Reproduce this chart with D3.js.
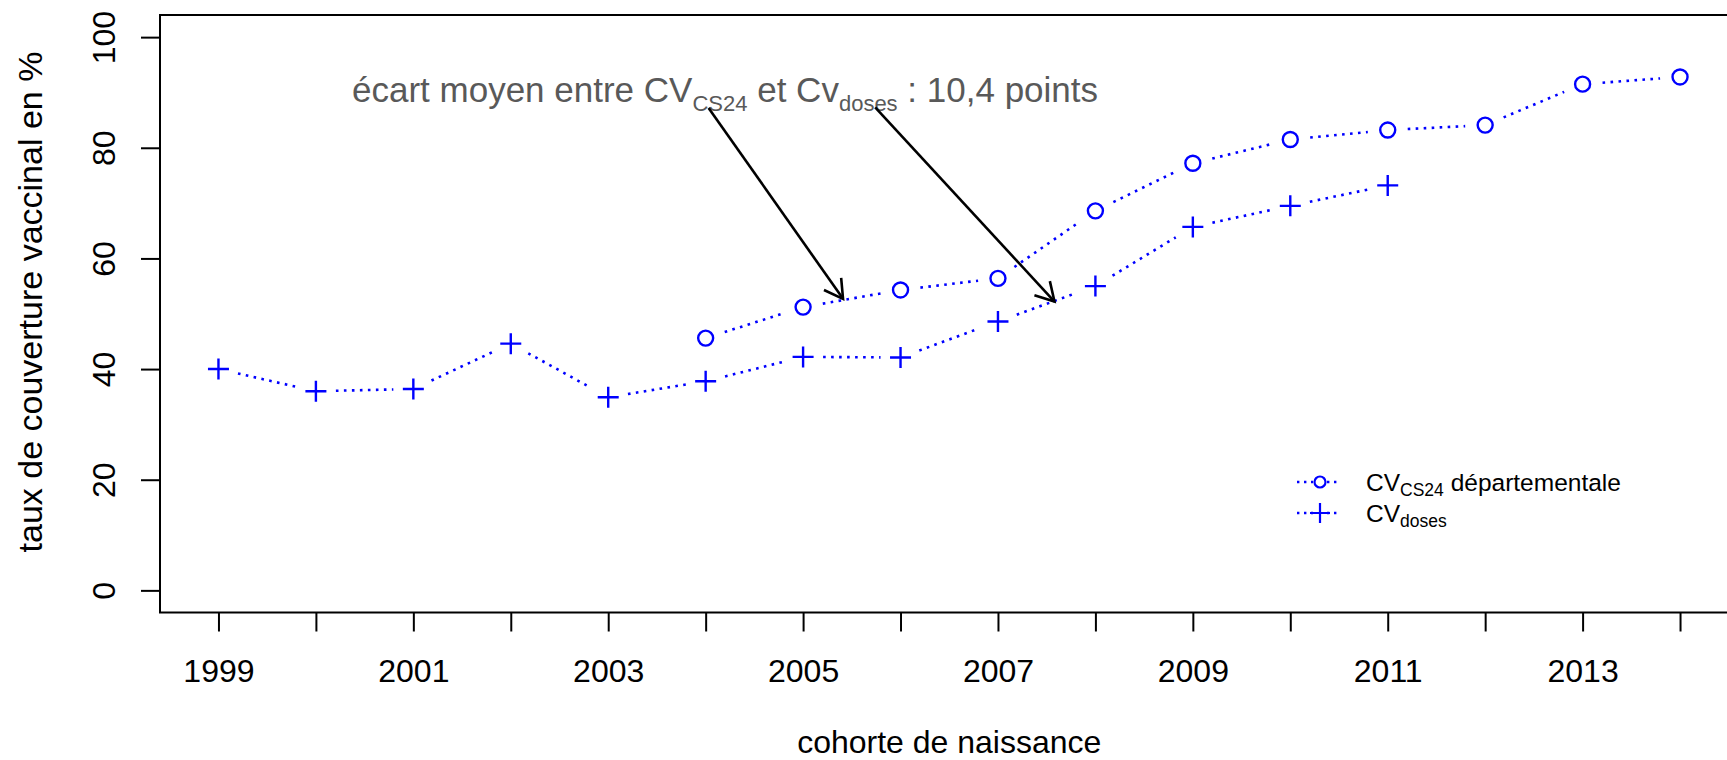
<!DOCTYPE html>
<html>
<head>
<meta charset="utf-8">
<script src="https://cdn.jsdelivr.net/npm/d3@7"></script>
<style>
  html, body { margin: 0; padding: 0; background: #fff; }
  svg { display: block; font-family: "Liberation Sans", Arial, sans-serif; }
</style>
</head>
<body>
<svg id="chart" width="1727" height="760"></svg>
<script>
// ---- data ----
const yearsCS24 = [2004, 2005, 2006, 2007, 2008, 2009, 2010, 2011, 2012, 2013, 2014];
const valuesCS24 = [45.6, 51.2, 54.3, 56.4, 68.6, 77.2, 81.5, 83.2, 84.1, 91.5, 92.8];
const yearsDoses = [1999, 2000, 2001, 2002, 2003, 2004, 2005, 2006, 2007, 2008, 2009, 2010, 2011];
const valuesDoses = [40.0, 36.0, 36.4, 44.6, 34.9, 37.8, 42.2, 42.1, 48.6, 55.0, 65.7, 69.5, 73.2];
const xTickValues = [1999, 2000, 2001, 2002, 2003, 2004, 2005, 2006, 2007, 2008, 2009, 2010, 2011, 2012, 2013, 2014];
const xTickLabels = ["1999", "", "2001", "", "2003", "", "2005", "", "2007", "", "2009", "", "2011", "", "2013", ""];
const yTickValues = [0, 20, 40, 60, 80, 100];
const yTickLabels = ["0", "20", "40", "60", "80", "100"];
const xTitle = "cohorte de naissance";
const yTitle = "taux de couverture vaccinal en %";
// arrows of the annotation, in data units [year, value]
const arrowFrom = [[2004.03, 87.2], [2005.74, 87.3]];
const arrowTo = [[2005.41, 52.7], [2007.58, 52.2]];

// ---- layout ----
const svg = d3.select("#chart");
const blue = "#0000ff";
const plot = { left: 160, right: 1738.5, top: 15, bottom: 612.5 };

const x = d3.scaleLinear().domain([1998.4, 2014.6]).range([plot.left, plot.right]);
const y = d3.scaleLinear().domain([-4, 104]).range([plot.bottom, plot.top]);

// box
svg.append("rect")
  .attr("x", plot.left).attr("y", plot.top)
  .attr("width", plot.right - plot.left).attr("height", plot.bottom - plot.top)
  .attr("fill", "none").attr("stroke", "#000").attr("stroke-width", 2);

// x axis
const xAxis = d3.axisBottom(x).tickValues(xTickValues).tickSize(19).tickPadding(0)
  .tickFormat((d, i) => xTickLabels[i]);
const gx = svg.append("g").attr("transform", `translate(0,${plot.bottom})`).call(xAxis);
gx.select(".domain").remove();
gx.selectAll(".tick line").attr("stroke", "#000").attr("stroke-width", 2);
gx.selectAll(".tick text").attr("y", 69).attr("dy", 0)
  .attr("font-size", 32).attr("fill", "#000").attr("font-family", "Liberation Sans, Arial, sans-serif");

// y axis
const yAxis = d3.axisLeft(y).tickValues(yTickValues).tickSize(19)
  .tickFormat((d, i) => yTickLabels[i]);
const gy = svg.append("g").attr("transform", `translate(${plot.left},0)`).call(yAxis);
gy.select(".domain").remove();
gy.selectAll(".tick line").attr("stroke", "#000").attr("stroke-width", 2);
gy.selectAll(".tick text")
  .attr("x", null).attr("dy", null)
  .attr("text-anchor", "middle")
  .attr("transform", "translate(-45,0) rotate(-90)")
  .attr("font-size", 32).attr("fill", "#000").attr("font-family", "Liberation Sans, Arial, sans-serif");

// axis titles
svg.append("text")
  .attr("x", (plot.left + plot.right) / 2).attr("y", 753)
  .attr("text-anchor", "middle").attr("font-size", 32).attr("fill", "#000")
  .text(xTitle);
svg.append("text")
  .attr("transform", `translate(42,302) rotate(-90)`)
  .attr("text-anchor", "middle").attr("font-size", 34).attr("fill", "#000")
  .text(yTitle);

// dotted "type b" lines
function drawSeries(years, values, marker) {
  const pts = years.map((yr, i) => [x(yr), y(values[i])]);
  const gap = 20;
  const g = svg.append("g");
  for (let i = 0; i < pts.length - 1; i++) {
    const [x1, y1] = pts[i], [x2, y2] = pts[i + 1];
    const len = Math.hypot(x2 - x1, y2 - y1);
    if (len <= 2 * gap) continue;
    const ux = (x2 - x1) / len, uy = (y2 - y1) / len;
    g.append("line")
      .attr("x1", x1 + ux * gap).attr("y1", y1 + uy * gap)
      .attr("x2", x2 - ux * gap).attr("y2", y2 - uy * gap)
      .attr("stroke", blue).attr("stroke-width", 2.6)
      .attr("stroke-dasharray", "2.6,5.4");
  }
  if (marker === "circle") {
    g.selectAll("circle").data(pts).join("circle")
      .attr("cx", d => d[0]).attr("cy", d => d[1]).attr("r", 7.5)
      .attr("fill", "none").attr("stroke", blue).attr("stroke-width", 2.4);
  } else {
    g.selectAll("path.plus").data(pts).join("path").attr("class", "plus")
      .attr("d", d => `M${d[0] - 10.5},${d[1]}H${d[0] + 10.5}M${d[0]},${d[1] - 10.5}V${d[1] + 10.5}`)
      .attr("stroke", blue).attr("stroke-width", 2.4).attr("fill", "none");
  }
}
drawSeries(yearsCS24, valuesCS24, "circle");
drawSeries(yearsDoses, valuesDoses, "plus");

// annotation
const ann = svg.append("text").attr("x", 352).attr("y", 102)
  .attr("font-size", 35).attr("fill", "#595959");
ann.append("tspan").text("écart moyen entre CV");
ann.append("tspan").attr("font-size", 22).attr("dy", 9).text("CS24");
ann.append("tspan").attr("dy", -9).text(" et Cv");
ann.append("tspan").attr("font-size", 22).attr("dy", 9).text("doses");
ann.append("tspan").attr("dy", -9).text(" : 10,4 points");

// arrows
arrowFrom.forEach((f, i) => {
  const t = arrowTo[i];
  const x1 = x(f[0]), y1 = y(f[1]), x2 = x(t[0]), y2 = y(t[1]);
  const ang = Math.atan2(y2 - y1, x2 - x1);
  const L = 21, a = Math.PI / 6;
  svg.append("line").attr("x1", x1).attr("y1", y1).attr("x2", x2).attr("y2", y2)
    .attr("stroke", "#000").attr("stroke-width", 2.6);
  svg.append("path")
    .attr("d", `M${x2 - L * Math.cos(ang - a)},${y2 - L * Math.sin(ang - a)}L${x2},${y2}L${x2 - L * Math.cos(ang + a)},${y2 - L * Math.sin(ang + a)}`)
    .attr("fill", "none").attr("stroke", "#000").attr("stroke-width", 2.6);
});

// legend
const lg = svg.append("g");
const legRows = [
  { y: 482, marker: "circle", main: "CV", sub: "CS24", rest: " départementale" },
  { y: 513, marker: "plus", main: "CV", sub: "doses", rest: "" }
];
legRows.forEach(r => {
  [[1297, 1313], [1327, 1341]].forEach(s => {
    lg.append("line").attr("x1", s[0]).attr("x2", s[1]).attr("y1", r.y).attr("y2", r.y)
      .attr("stroke", blue).attr("stroke-width", 2.4).attr("stroke-dasharray", "2.4,4.6");
  });
  if (r.marker === "circle") {
    lg.append("circle").attr("cx", 1320).attr("cy", r.y).attr("r", 5.5)
      .attr("fill", "none").attr("stroke", blue).attr("stroke-width", 2.2);
  } else {
    lg.append("path").attr("d", `M1310,${r.y}H1330M1320,${r.y - 10}V${r.y + 10}`)
      .attr("stroke", blue).attr("stroke-width", 2.2);
  }
  const t = lg.append("text").attr("x", 1366).attr("y", r.y + 8.5).attr("font-size", 24.5).attr("fill", "#000");
  t.append("tspan").text(r.main);
  t.append("tspan").attr("font-size", 17.5).attr("dy", 5).text(r.sub);
  if (r.rest) t.append("tspan").attr("dy", -5).text(r.rest);
});
</script>
</body>
</html>
